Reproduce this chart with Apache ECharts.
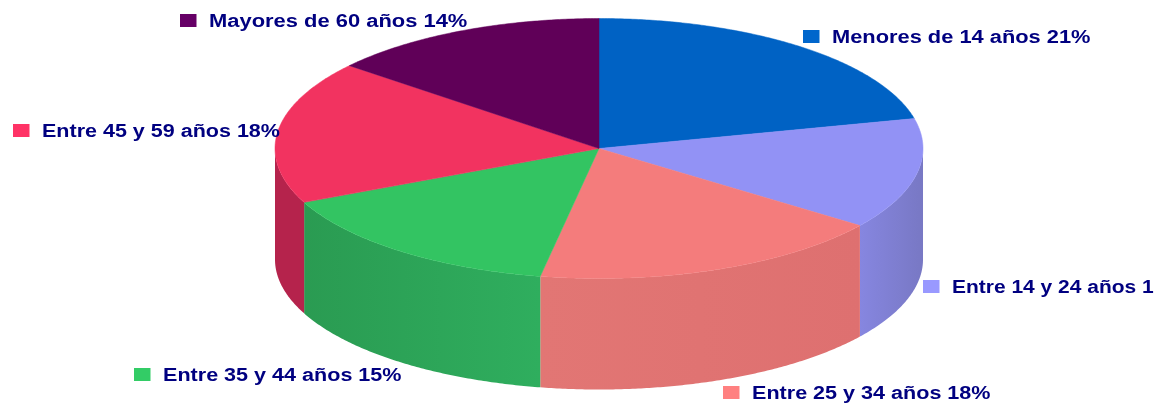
<!DOCTYPE html>
<html>
<head>
<meta charset="utf-8">
<style>html,body{margin:0;padding:0;background:#fff}#c{width:1164px;height:403px}</style>
<script src="https://cdn.jsdelivr.net/npm/echarts@6/dist/echarts.min.js"></script>
</head>
<body>
<div id="c"></div>
<script>
const categories = ['Menores de 14 años','Entre 14 y 24 años','Entre 25 y 34 años','Entre 35 y 44 años','Entre 45 y 59 años','Mayores de 60 años'];
const values = [21.3,13.8,17.8,15.3,17.8,14.0];
const labels = ['Menores de 14 años 21%','Entre 14 y 24 años 1','Entre 25 y 34 años 18%','Entre 35 y 44 años 15%','Entre 45 y 59 años 18%','Mayores de 60 años 14%'];
const topColors = ['#0062c4','#9292f5','#f47c7c','#33c462','#f23360','#600058'];
const swatchColors = ['#0066cc','#9999ff','#ff8080','#33cc66','#ff3366','#660066'];
const wallLeft = ['#0055aa','#8686e0','#e27674','#2a9b52','#b5234c','#500048'];
const wallRight = ['#0055aa','#7878c4','#de7070','#2fae5e','#b5234c','#500048'];
// layout, not data: swatch left, baseline y and horizontal stretch of each label
const labelX = [803,923,723,134,13,180];
const labelY = [43,293,399,381,137,27];
const labelStretch = [1.213,1.165,1.198,1.198,1.195,1.218];

const cx = 599, cy = 148.5, rx = 324, ry = 130, depth = 111;
const total = values.reduce((a,b)=>a+b,0);
const deg = Math.PI/180;
const pt = (t,dy)=>[cx+rx*Math.sin(t), cy-ry*Math.cos(t)+(dy||0)];
function arc(a,b,dy){const n=Math.max(2,Math.ceil((b-a)/(0.5*deg)));const p=[];for(let i=0;i<=n;i++)p.push(pt(a+(b-a)*i/n,dy));return p;}

function renderItem(params, api){
  const i = params.dataIndex;
  let before = 0; for(let k=0;k<i;k++) before += values[k];
  const a = before/total*2*Math.PI, b = (before+api.value(0))/total*2*Math.PI;
  const kids = [];
  const wa = Math.max(a,90*deg), wb = Math.min(b,270*deg);
  if(wb>wa){
    const front = arc(wa,wb,0), back = arc(wa,wb,depth).reverse();
    const lo = Math.min(...front.map(p=>p[0])), hi = Math.max(...front.map(p=>p[0]));
    kids.push({type:'polygon',shape:{points:front.concat(back)},silent:true,
      style:{fill:{type:'linear',x:lo,y:0,x2:hi,y2:0,global:true,colorStops:[{offset:0,color:wallLeft[i]},{offset:1,color:wallRight[i]}]}}});
  }
  kids.push({type:'polygon',shape:{points:[[cx,cy]].concat(arc(a,b,0))},silent:true,style:{fill:topColors[i],stroke:topColors[i],lineWidth:0.5}});
  kids.push({type:'rect',shape:{x:labelX[i],y:labelY[i]-13,width:16.5,height:13},silent:true,z2:50,style:{fill:swatchColors[i]}});
  kids.push({type:'text',x:labelX[i]+29,y:labelY[i]+4,scaleX:labelStretch[i],scaleY:1,silent:true,z2:51,
    style:{text:labels[i],fill:'#000080',font:'bold 18px "Liberation Sans", Arial, sans-serif',textAlign:'left',textVerticalAlign:'bottom'}});
  return {type:'group',children:kids};
}

const chart = echarts.init(document.getElementById('c'),null,{renderer:'canvas'});
chart.setOption({
  animation:false,
  backgroundColor:'#fff',
  series:[{type:'custom',coordinateSystem:'none',renderItem,clip:false,
    data:values.map((v,i)=>({name:categories[i],value:[v]}))}]
});
</script>
</body>
</html>
